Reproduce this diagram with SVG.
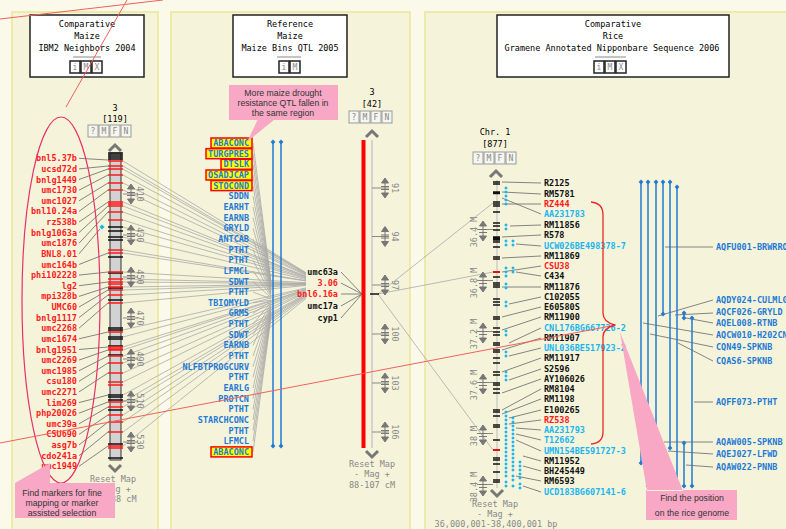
<svg xmlns="http://www.w3.org/2000/svg" width="786" height="529" viewBox="0 0 786 529">
<style>
.m{font-family:"DejaVu Sans Mono","Liberation Mono",monospace;font-size:8.5px}
.b{font-weight:bold}
.e{text-anchor:end}
.c{text-anchor:middle}
.red{fill:#ff1a1a}
.blk{fill:#111}
.qtl{fill:#1f7ad6}
.cy{fill:#1ab4f0}
.gr{fill:#888}
.btn rect{fill:#f6f6f0;stroke:#9a9a9a;stroke-width:1}
.btn text{font-family:"DejaVu Sans Mono",monospace;font-size:8px;fill:#888;text-anchor:middle}
.title rect{fill:#fff;stroke:#222;stroke-width:1.5}
.lead{stroke:#777;stroke-width:0.9;fill:none}
.fan{stroke:#aaa;stroke-width:0.8;fill:none}
.gad{fill:#777;stroke:#777;stroke-width:1}
.ct{font-family:"Liberation Sans",Arial,sans-serif;font-size:8.7px;fill:#333;text-anchor:middle}
.call{fill:#f8a8c4}
.ann{stroke:#f06060;stroke-width:1;fill:none}
</style>
<defs>
<g id="gad"><path d="M0,-10L3.5,-5H-3.5Z M0,10L3.5,5H-3.5Z M0,-5V5 M-4,-1.5H4 M-4,1.5H4"/></g>
<path id="bd" d="M0,-2.4L2.4,0L0,2.4L-2.4,0Z" fill="#1f7ad6"/>
</defs>
<rect x="0" y="0" width="786" height="529" fill="#fbf9e9"/>
<g id="panels">
<rect x="12" y="12" width="146" height="530" fill="#f5f4da" stroke="#eeeaa8" stroke-width="2"/>
<rect x="171" y="12" width="239" height="530" fill="#f5f4da" stroke="#eeeaa8" stroke-width="2"/>
<rect x="425" y="12" width="370" height="530" fill="#f5f4da" stroke="#eeeaa8" stroke-width="2"/>
</g>
<g id="title-left" class="title">
<rect x="30" y="15" width="114" height="62"/>
<text class="m c" x="87" y="27">Comparative</text>
<text class="m c" x="87" y="39">Maize</text>
<text class="m c" x="87" y="51">IBM2 Neighbors 2004</text>
<line x1="73" y1="57" x2="101" y2="57" stroke="#888"/>
<g class="btn"><rect x="70" y="61" width="10" height="12"/><text x="75" y="70">i</text><rect x="81" y="61" width="10" height="12"/><text x="86" y="70">M</text><rect x="92" y="61" width="10" height="12"/><text x="97" y="70">X</text></g>
</g>
<g id="title-mid" class="title">
<rect x="233" y="15" width="114" height="62"/>
<text class="m c" x="290" y="27">Reference</text>
<text class="m c" x="290" y="39">Maize</text>
<text class="m c" x="290" y="51">Maize Bins QTL 2005</text>
<line x1="277" y1="57" x2="301" y2="57" stroke="#888"/>
<g class="btn"><rect x="279" y="61" width="10" height="12"/><text x="284" y="70">i</text><rect x="290" y="61" width="10" height="12"/><text x="295" y="70">M</text></g>
</g>
<g id="title-right" class="title">
<rect x="497" y="15" width="232" height="62"/>
<text class="m c" x="613" y="27">Comparative</text>
<text class="m c" x="613" y="39">Rice</text>
<text class="m c" x="612" y="51">Gramene Annotated Nipponbare Sequence 2006</text>
<line x1="595" y1="57" x2="626" y2="57" stroke="#888"/>
<g class="btn"><rect x="594" y="61" width="10" height="12"/><text x="599" y="70">i</text><rect x="605" y="61" width="10" height="12"/><text x="610" y="70">M</text><rect x="616" y="61" width="10" height="12"/><text x="621" y="70">X</text></g>
</g>
<g id="connectors">
<path class="fan" d="M123,161L306,272.7M123,166L306,273.2M123,169L306,273.4M123,175L306,274M123,183L306,274.7M123,190L306,275.3M123,202L306,276.4M123,206L306,276.8M123,212L306,277.3M123,220L306,278M123,227L306,278.7M123,237L306,279.6M123,250L306,280.7M123,253L306,281M123,272L306,282.7M123,279L306,283.3M123,282L306,283.6M123,287L306,284.1M123,290L306,284.3M123,295L306,284.8M123,303L306,285.5M123,330L306,287.9M123,337L306,288.6M123,347L306,289.5M123,350L306,289.7M123,356L306,290.3M123,363L306,290.9M123,373L306,291.8M123,382L306,292.6M123,395L306,293.8M123,402L306,294.4M123,407L306,294.9M123,415L306,295.6M123,422L306,296.2M123,432L306,297.1M123,446L306,298.4"/>
<path class="lead" d="M79,158.3L108,160M79,168.9L108,166M79,179.5L108,169M79,190.2L108,175M79,200.8L108,183M79,211.4L108,190M79,222L108,202M79,232.6L108,206M79,243.3L108,212M79,253.9L100,229M79,264.5L108,253M79,275.1L108,272M79,285.7L108,282M79,296.4L108,287M79,307L108,290M79,317.6L108,295M79,328.2L108,303M79,338.8L108,332M79,349.5L108,347M79,360.1L108,350M79,370.7L108,356M79,381.3L108,363M79,391.9L108,373M79,402.6L108,395M79,413.2L108,402M79,423.8L108,407M79,434.4L108,415M79,445L108,422M79,455.7L108,432M79,466.3L108,446"/>
<path class="fan" stroke="#999" d="M253,143L271,282M253,153.7L271,283.2M253,164.3L271,284.4M253,175L271,285.6M253,185.6L271,286.8M253,196.3L271,288M253,206.9L271,289.2M253,217.6L271,290.4M253,228.2L271,291.6M253,238.9L271,292.8M253,249.5L271,294M253,260.2L271,295.2M253,270.8L271,296.4M253,281.5L271,297.6M253,292.1L271,298.8M253,302.8L271,300M253,313.4L271,301.2M253,324.1L271,302.4M253,334.7L271,303.6M253,345.4L271,304.8M253,356L271,306M253,366.7L271,307.2M253,377.3L271,308.4M253,388L271,309.6M253,398.6L271,310.8M253,409.3L271,312M253,419.9L271,313.2M253,430.6L271,314.4M253,441.2L271,315.6M253,451.9L271,316.8"/>
<path class="lead" d="M341,272L362,294M341,283L362,294M341,294L362,294M341,306L362,294M341,318L362,294"/>
<path class="fan" stroke="#a8a8a8" d="M378,294L493,203M378,294L493,272M378,294L493,450"/>
<path class="lead" stroke="#888" d="M541,183L502,182M541,194L502,192M541,204L502,204M541,214L502,198M541,225L510,226M541,235L502,237M541,246L516,244M541,256L502,258M541,266L502,272M541,276L516,272M541,287L502,287M541,297L509,304M541,307L502,317M541,317L502,330M541,328L509,343M541,338L502,350M541,348L509,356M541,358L502,372M541,369L509,380M541,379L502,393M541,389L502,410M541,399L502,414M541,410L509,418M541,420L509,424M541,430L516,428M541,440L516,434M541,451L516,440M541,461L523,456M541,471L523,466M541,481L516,476M541,492L523,486"/>
<path class="lead" stroke="#888" d="M665,247H713M658,316L713,300M675,315L713,313M686,318L713,323M643,323L713,335M650,334L713,347M678,343L713,361M694,402H713M664,442H713M668,451L713,454M686,465L713,467"/>
</g>
<g id="map-left">
<text class="m c" x="115" y="111">3</text>
<text class="m c" x="115" y="122">[119]</text>
<g class="btn"><rect x="88" y="125" width="10" height="12"/><text x="93" y="134">?</text><rect x="99" y="125" width="10" height="12"/><text x="104" y="134">M</text><rect x="110" y="125" width="10" height="12"/><text x="115" y="134">F</text><rect x="121" y="125" width="10" height="12"/><text x="126" y="134">N</text></g>
<polyline points="109,151 115,145 121,151" fill="none" stroke="#777" stroke-width="3"/>
<rect x="110" y="153" width="11" height="307" fill="#d2d2d2" stroke="#333"/>
<path stroke="#111" stroke-width="1.4" d="M108,153H123M108,155H123M108,157H123M108,159H123M108,227H123M108,231H123M108,237H123M108,240H123M108,257H123M108,273H123M108,288H123M108,300H123M108,328H123M108,330H123M108,337H123M108,339H123M108,346H123M108,355H123M108,395H123M108,397H123M108,400H123M108,410H123M108,444H123M108,458H123"/>
<path stroke="#ff1a1a" stroke-width="1.6" d="M108,161H123M108,166H123M108,169H123M108,175H123M108,183H123M108,190H123M108,202H123M108,204H123M108,206H123M108,212H123M108,220H123M108,250H123M108,253H123M108,272H123M108,279H123M108,282H123M108,284H123M108,287H123M108,290H123M108,295H123M108,303H123M108,332H123M108,347H123M108,349H123M108,350H123M108,356H123M108,363H123M108,373H123M108,382H123M108,385H123M108,402H123M108,407H123M108,415H123M108,422H123M108,432H123M108,446H123M108,448H123"/>
<polyline points="109,465 115,471 121,465" fill="none" stroke="#777" stroke-width="3"/>
<path d="M102,224.5L104.5,227L102,229.5L99.5,227Z" fill="#1ab4f0"/>
<path stroke="#888" d="M123,194H138M123,235H138M123,277H138M123,318H138M123,359H138M123,401H138M123,442H138"/>
<g class="gad"><use href="#gad" x="131" y="194"/><use href="#gad" x="131" y="235"/><use href="#gad" x="131" y="277"/><use href="#gad" x="131" y="318"/><use href="#gad" x="131" y="359"/><use href="#gad" x="131" y="401"/><use href="#gad" x="131" y="442"/></g>
<g class="m gr c">
<text transform="translate(137,194) rotate(90)">410</text>
<text transform="translate(137,235) rotate(90)">430</text>
<text transform="translate(137,277) rotate(90)">450</text>
<text transform="translate(137,318) rotate(90)">470</text>
<text transform="translate(137,359) rotate(90)">490</text>
<text transform="translate(137,401) rotate(90)">510</text>
<text transform="translate(137,442) rotate(90)">530</text>
<text x="113" y="482">Reset Map</text>
<text x="113" y="492">- Mag +</text>
<text x="111" y="502">398-538 cM</text>
</g>
<g class="m b e red">
<text x="77" y="161.3">bnl5.37b</text>
<text x="77" y="171.9">ucsd72d</text>
<text x="77" y="182.5">bnlg1449</text>
<text x="77" y="193.2">umc1730</text>
<text x="77" y="203.8">umc1027</text>
<text x="77" y="214.4">bnl10.24a</text>
<text x="77" y="225">rz538b</text>
<text x="77" y="235.6">bnlg1063a</text>
<text x="77" y="246.3">umc1876</text>
<text x="77" y="256.9">BNL8.01</text>
<text x="77" y="267.5">umc164b</text>
<text x="77" y="278.1">phi102228</text>
<text x="77" y="288.7">lg2</text>
<text x="77" y="299.4">mpi328b</text>
<text x="77" y="310">UMC60</text>
<text x="77" y="320.6">bnlg1117</text>
<text x="77" y="331.2">umc2268</text>
<text x="77" y="341.8">umc1674</text>
<text x="77" y="352.5">bnlg1951</text>
<text x="77" y="363.1">umc2269</text>
<text x="77" y="373.7">umc1985</text>
<text x="77" y="384.3">csu180</text>
<text x="77" y="394.9">umc2271</text>
<text x="77" y="405.6">lim269</text>
<text x="77" y="416.2">php20026</text>
<text x="77" y="426.8">umc39a</text>
<text x="77" y="437.4">CSU690</text>
<text x="77" y="448">asg7b</text>
<text x="77" y="458.7">cdo241a</text>
<text x="77" y="469.3">umc1949</text>
</g>
</g>
<g id="map-mid">
<text class="m c" x="372" y="95">3</text>
<text class="m c" x="372" y="107">[42]</text>
<g class="btn"><rect x="349" y="111" width="10" height="12"/><text x="354" y="120">?</text><rect x="360" y="111" width="10" height="12"/><text x="365" y="120">M</text><rect x="371" y="111" width="10" height="12"/><text x="376" y="120">F</text><rect x="382" y="111" width="10" height="12"/><text x="387" y="120">N</text></g>
<polyline points="366,137 372,131 378,137" fill="none" stroke="#777" stroke-width="3"/>
<line x1="372" y1="140" x2="372" y2="448" stroke="#c8c8c8" stroke-width="1.5"/>
<rect x="361.5" y="140" width="4" height="308" fill="#ff0000"/>
<line x1="370" y1="294" x2="379" y2="294" stroke="#111" stroke-width="1.5"/>
<polyline points="366,451 372,457 378,451" fill="none" stroke="#777" stroke-width="3"/>
<path stroke="#888" d="M372,188H389M372,236.5H389M372,285H389M372,334H389M372,383H389M372,432H389"/>
<g class="gad"><use href="#gad" x="385" y="188"/><use href="#gad" x="385" y="236.5"/><use href="#gad" x="385" y="285"/><use href="#gad" x="385" y="334"/><use href="#gad" x="385" y="383"/><use href="#gad" x="385" y="432"/></g>
<g class="m gr c">
<text transform="translate(392,188) rotate(90)">91</text>
<text transform="translate(392,236.5) rotate(90)">94</text>
<text transform="translate(392,285) rotate(90)">97</text>
<text transform="translate(392,334) rotate(90)">100</text>
<text transform="translate(392,383) rotate(90)">103</text>
<text transform="translate(392,432) rotate(90)">106</text>
<text x="372" y="467">Reset Map</text>
<text x="372" y="477">- Mag +</text>
<text x="372" y="488">88-107 cM</text>
</g>
<g class="m b e">
<text class="blk" x="338" y="275">umc63a</text>
<text class="red" x="338" y="286">3.06</text>
<text class="red" x="338" y="297">bnl6.16a</text>
<text class="blk" x="338" y="309">umc17a</text>
<text class="blk" x="338" y="321">cyp1</text>
</g>
<path stroke="#1f7ad6" stroke-width="1.5" d="M273,142V446M281,142V446"/>
<use href="#bd" x="273" y="142"/><use href="#bd" x="281" y="142"/><use href="#bd" x="273" y="446"/><use href="#bd" x="281" y="446"/>
<g fill="#ffff00" stroke="#ff0000" stroke-width="1.5">
<rect x="211" y="138" width="41" height="10"/>
<rect x="206" y="148.7" width="46" height="10"/>
<rect x="221" y="159.3" width="31" height="10"/>
<rect x="206" y="170" width="46" height="10"/>
<rect x="211" y="180.6" width="41" height="10"/>
<rect x="211" y="446.9" width="41" height="10"/>
</g>
<g class="m b e qtl">
<text x="249" y="146">ABACONC</text>
<text x="249" y="156.7">TURGPRES</text>
<text x="249" y="167.3">DTSLK</text>
<text x="249" y="178">OSADJCAP</text>
<text x="249" y="188.6">STOCOND</text>
<text x="249" y="199.3">SDDN</text>
<text x="249" y="209.9">EARHT</text>
<text x="249" y="220.6">EARNB</text>
<text x="249" y="231.2">GRYLD</text>
<text x="249" y="241.9">ANTCAB</text>
<text x="249" y="252.5">PTHT</text>
<text x="249" y="263.2">PTHT</text>
<text x="249" y="273.8">LFMCL</text>
<text x="249" y="284.5">SDWT</text>
<text x="249" y="295.1">PTHT</text>
<text x="249" y="305.8">TBIOMYLD</text>
<text x="249" y="316.4">GRMS</text>
<text x="249" y="327.1">PTHT</text>
<text x="249" y="337.7">SDWT</text>
<text x="249" y="348.4">EARNB</text>
<text x="249" y="359">PTHT</text>
<text x="249" y="369.7">NLFBTPROGCURV</text>
<text x="249" y="380.3">PTHT</text>
<text x="249" y="391">EARLG</text>
<text x="249" y="401.6">PROTCN</text>
<text x="249" y="412.3">PTHT</text>
<text x="249" y="422.9">STARCHCONC</text>
<text x="249" y="433.6">PTHT</text>
<text x="249" y="444.2">LFMCL</text>
<text x="249" y="454.9">ABACONC</text>
</g>
</g>
<g id="map-right">
<text class="m c" x="495" y="135">Chr. 1</text>
<text class="m c" x="495" y="147">[877]</text>
<g class="btn"><rect x="473" y="152" width="10" height="12"/><text x="478" y="161">?</text><rect x="484" y="152" width="10" height="12"/><text x="489" y="161">M</text><rect x="495" y="152" width="10" height="12"/><text x="500" y="161">F</text><rect x="506" y="152" width="10" height="12"/><text x="511" y="161">N</text></g>
<polyline points="490,177 496,171 502,177" fill="none" stroke="#777" stroke-width="3"/>
<line x1="497" y1="180" x2="497" y2="488" stroke="#bbb"/>
<path stroke="#111" stroke-width="1.6" d="M493,182H500M493,184H500M493,192H500M493,193.5H500M493,202H500M493,204H500M493,206H500M493,212H500M493,223H500M493,226H500M493,230H500M493,237H500M493,238.5H500M493,240H500M493,242H500M493,247H500M493,257H500M493,259H500M493,277H500M493,283H500M493,285H500M493,287H500M493,299H500M493,302H500M493,305H500M493,317H500M493,319H500M493,328H500M493,332H500M493,335H500M493,343H500M493,345H500M493,350H500M493,352H500M493,358H500M493,363H500M493,372H500M493,375H500M493,383H500M493,385H500M493,389H500M493,393H500M493,410H500M493,412H500M493,416H500M493,425H500M493,427H500M493,440H500M493,458H500M493,460H500M493,464H500M493,472H500M493,480H500M493,482H500"/>
<path stroke="#e01010" stroke-width="2" d="M493,272H500M493,450H500"/>
<polyline points="491,490 497,496 503,490" fill="none" stroke="#777" stroke-width="3"/>
<path fill="#1ab4f0" d="M506,186.2l1.8,1.8-1.8,1.8-1.8-1.8zM506,190.2l1.8,1.8-1.8,1.8-1.8-1.8zM506,194.2l1.8,1.8-1.8,1.8-1.8-1.8zM506,198.2l1.8,1.8-1.8,1.8-1.8-1.8zM506,202.2l1.8,1.8-1.8,1.8-1.8-1.8zM506,223.2l1.8,1.8-1.8,1.8-1.8-1.8zM506,227.2l1.8,1.8-1.8,1.8-1.8-1.8zM506,239.2l1.8,1.8-1.8,1.8-1.8-1.8zM506,243.2l1.8,1.8-1.8,1.8-1.8-1.8zM506,266.2l1.8,1.8-1.8,1.8-1.8-1.8zM506,270.2l1.8,1.8-1.8,1.8-1.8-1.8zM506,274.2l1.8,1.8-1.8,1.8-1.8-1.8zM506,282.2l1.8,1.8-1.8,1.8-1.8-1.8zM506,286.2l1.8,1.8-1.8,1.8-1.8-1.8zM506,300.2l1.8,1.8-1.8,1.8-1.8-1.8zM506,304.2l1.8,1.8-1.8,1.8-1.8-1.8zM506,329.2l1.8,1.8-1.8,1.8-1.8-1.8zM506,333.2l1.8,1.8-1.8,1.8-1.8-1.8zM506,350.2l1.8,1.8-1.8,1.8-1.8-1.8zM506,354.2l1.8,1.8-1.8,1.8-1.8-1.8zM506,370.2l1.8,1.8-1.8,1.8-1.8-1.8zM506,374.2l1.8,1.8-1.8,1.8-1.8-1.8zM506,378.2l1.8,1.8-1.8,1.8-1.8-1.8zM506,410.2l1.8,1.8-1.8,1.8-1.8-1.8zM506,414.2l1.8,1.8-1.8,1.8-1.8-1.8zM506,418.2l1.8,1.8-1.8,1.8-1.8-1.8zM506,422.2l1.8,1.8-1.8,1.8-1.8-1.8zM506,426.2l1.8,1.8-1.8,1.8-1.8-1.8zM506,430.2l1.8,1.8-1.8,1.8-1.8-1.8zM506,434.2l1.8,1.8-1.8,1.8-1.8-1.8zM506,438.2l1.8,1.8-1.8,1.8-1.8-1.8zM506,442.2l1.8,1.8-1.8,1.8-1.8-1.8zM506,446.2l1.8,1.8-1.8,1.8-1.8-1.8zM506,450.2l1.8,1.8-1.8,1.8-1.8-1.8zM506,454.2l1.8,1.8-1.8,1.8-1.8-1.8zM506,458.2l1.8,1.8-1.8,1.8-1.8-1.8zM506,462.2l1.8,1.8-1.8,1.8-1.8-1.8zM506,466.2l1.8,1.8-1.8,1.8-1.8-1.8zM506,470.2l1.8,1.8-1.8,1.8-1.8-1.8zM506,474.2l1.8,1.8-1.8,1.8-1.8-1.8zM506,480.2l1.8,1.8-1.8,1.8-1.8-1.8zM506,484.2l1.8,1.8-1.8,1.8-1.8-1.8zM513,239.2l1.8,1.8-1.8,1.8-1.8-1.8zM513,243.2l1.8,1.8-1.8,1.8-1.8-1.8zM513,266.2l1.8,1.8-1.8,1.8-1.8-1.8zM513,270.2l1.8,1.8-1.8,1.8-1.8-1.8zM513,416.2l1.8,1.8-1.8,1.8-1.8-1.8zM513,420.2l1.8,1.8-1.8,1.8-1.8-1.8zM513,424.2l1.8,1.8-1.8,1.8-1.8-1.8zM513,428.2l1.8,1.8-1.8,1.8-1.8-1.8zM513,432.2l1.8,1.8-1.8,1.8-1.8-1.8zM513,436.2l1.8,1.8-1.8,1.8-1.8-1.8zM513,440.2l1.8,1.8-1.8,1.8-1.8-1.8zM513,444.2l1.8,1.8-1.8,1.8-1.8-1.8zM513,448.2l1.8,1.8-1.8,1.8-1.8-1.8zM513,452.2l1.8,1.8-1.8,1.8-1.8-1.8zM513,456.2l1.8,1.8-1.8,1.8-1.8-1.8zM513,460.2l1.8,1.8-1.8,1.8-1.8-1.8zM513,464.2l1.8,1.8-1.8,1.8-1.8-1.8zM513,468.2l1.8,1.8-1.8,1.8-1.8-1.8zM513,474.2l1.8,1.8-1.8,1.8-1.8-1.8zM513,478.2l1.8,1.8-1.8,1.8-1.8-1.8zM513,484.2l1.8,1.8-1.8,1.8-1.8-1.8zM520,460.2l1.8,1.8-1.8,1.8-1.8-1.8zM520,464.2l1.8,1.8-1.8,1.8-1.8-1.8zM520,468.2l1.8,1.8-1.8,1.8-1.8-1.8zM520,472.2l1.8,1.8-1.8,1.8-1.8-1.8zM520,476.2l1.8,1.8-1.8,1.8-1.8-1.8zM520,482.2l1.8,1.8-1.8,1.8-1.8-1.8zM520,486.2l1.8,1.8-1.8,1.8-1.8-1.8z"/>
<path stroke="#888" d="M477,229.5H493M477,280.5H493M477,331.5H493M477,382.5H493M477,433.5H493M477,484.5H493"/>
<g class="gad"><use href="#gad" x="483" y="231"/><use href="#gad" x="483" y="282"/><use href="#gad" x="483" y="333"/><use href="#gad" x="483" y="384"/><use href="#gad" x="483" y="435"/><use href="#gad" x="483" y="486"/></g>
<g class="m gr c">
<text transform="translate(477,232) rotate(-90)">36.4 M</text>
<text transform="translate(477,283) rotate(-90)">36.8 M</text>
<text transform="translate(477,334) rotate(-90)">37.2 M</text>
<text transform="translate(477,385) rotate(-90)">37.6 M</text>
<text transform="translate(477,436) rotate(-90)">38 M</text>
<text transform="translate(477,487) rotate(-90)">38.4 M</text>
<text x="495" y="507">Reset Map</text>
<text x="495" y="517">- Mag +</text>
<text x="496" y="527">36,000,001-38,400,001 bp</text>
</g>
<g class="m b">
<text class="blk" x="544" y="186">R2125</text>
<text class="blk" x="544" y="197">RM5781</text>
<text class="red" x="544" y="207">RZ444</text>
<text class="cy" x="544" y="217">AA231783</text>
<text class="blk" x="544" y="228">RM11856</text>
<text class="blk" x="544" y="238">R578</text>
<text class="cy" x="544" y="249">UCW026BE498378-7</text>
<text class="blk" x="544" y="259">RM11869</text>
<text class="red" x="544" y="269">CSU38</text>
<text class="blk" x="544" y="279">C434</text>
<text class="blk" x="544" y="290">RM11876</text>
<text class="blk" x="544" y="300">C102055</text>
<text class="blk" x="544" y="310">E60580S</text>
<text class="blk" x="544" y="320">RM11900</text>
<text class="cy" x="544" y="331">CNL176BG667726-2</text>
<text class="blk" x="544" y="341">RM11907</text>
<text class="cy" x="544" y="351">UNL036BE517923-2</text>
<text class="blk" x="544" y="361">RM11917</text>
<text class="blk" x="544" y="372">S2596</text>
<text class="blk" x="544" y="382">AY106026</text>
<text class="blk" x="544" y="392">RM8104</text>
<text class="blk" x="544" y="402">RM1198</text>
<text class="blk" x="544" y="413">E100265</text>
<text class="red" x="544" y="423">RZ538</text>
<text class="cy" x="544" y="433">AA231793</text>
<text class="cy" x="544" y="443">T12662</text>
<text class="cy" x="544" y="454">UMN154BE591727-3</text>
<text class="blk" x="544" y="464">RM11952</text>
<text class="blk" x="544" y="474">BH245449</text>
<text class="blk" x="544" y="484">RM6593</text>
<text class="cy" x="544" y="495">UCD183BG607141-6</text>
</g>
<path stroke="#1f7ad6" stroke-width="1.5" d="M641,182V463M648,182V486M656,182V468M663,182V314M670,182V448M677,187V478M684,313V318M684,443V486M692,318V486"/>
<use href="#bd" x="641" y="182"/><use href="#bd" x="648" y="182"/><use href="#bd" x="656" y="182"/><use href="#bd" x="663" y="182"/><use href="#bd" x="670" y="182"/><use href="#bd" x="677" y="187"/><use href="#bd" x="641" y="463"/><use href="#bd" x="648" y="486"/><use href="#bd" x="663" y="314"/><use href="#bd" x="670" y="448"/><use href="#bd" x="684" y="313"/><use href="#bd" x="684" y="318"/><use href="#bd" x="684" y="443"/><use href="#bd" x="684" y="486"/><use href="#bd" x="692" y="318"/><use href="#bd" x="692" y="486"/>
<g class="m b qtl">
<text x="716" y="250">AQFU001-BRWRRO</text>
<text x="716" y="303">AQDY024-CULMLG</text>
<text x="716" y="315">AQCF026-GRYLD</text>
<text x="716" y="326">AQEL008-RTNB</text>
<text x="716" y="338">AQCW010-H202CN</text>
<text x="716" y="350">CQN49-SPKNB</text>
<text x="716" y="364">CQAS6-SPKNB</text>
<text x="716" y="405">AQFF073-PTHT</text>
<text x="716" y="445">AQAW005-SPKNB</text>
<text x="716" y="457">AQEJ027-LFWD</text>
<text x="716" y="470">AQAW022-PNNB</text>
</g>
</g>
<g id="annotations">
<ellipse cx="61" cy="300" rx="39" ry="183" fill="none" stroke="#e8306a" stroke-width="1.2"/>
<path class="ann" d="M0,19L163,0M127,0L66,107M0,443L616,325"/>
<path fill="none" stroke="#e82828" stroke-width="1.3" d="M591,202Q603,203 603,215L603,313Q603,322 615,325Q603,328 603,337L603,432Q603,443 591,444"/>
</g>
<g id="callout-left">
<path class="call" d="M15,483H115V518H15Z M15,483L50,463V483Z"/>
<text class="ct" x="62" y="495.5">Find markers for fine</text>
<text class="ct" x="62" y="505.5">mapping or marker</text>
<text class="ct" x="62" y="515.5">assisted selection</text>
</g>
<g id="callout-mid">
<path class="call" d="M229,85H338V120H229Z M258,119L275,119L247,142Z"/>
<text class="ct" x="283" y="96">More maize drought</text>
<text class="ct" x="283" y="106">resistance QTL fallen in</text>
<text class="ct" x="283" y="116">the same region</text>
</g>
<g id="callout-right">
<path class="call" d="M646,490H737V520H646Z M620,332L647,491L683,491Z"/>
<text class="ct" x="692" y="501">Find the position</text>
<text class="ct" x="692" y="516">on the rice genome</text>
</g>
</svg>
